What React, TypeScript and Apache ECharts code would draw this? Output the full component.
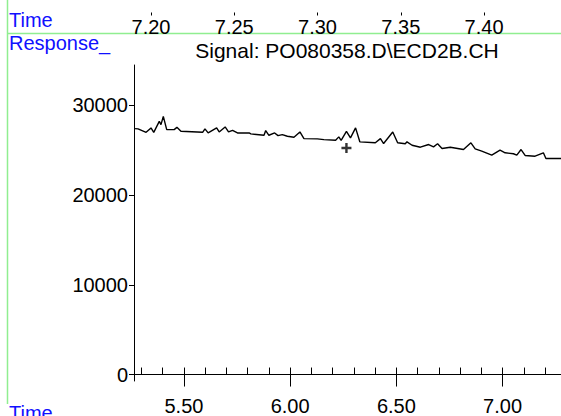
import React, { useEffect, useRef } from "react";
import * as echarts from "echarts";

// Retention time (min) and detector response
const times = [
  5.27, 5.284, 5.322, 5.345, 5.358, 5.384, 5.392, 5.403, 5.419, 5.454,
  5.467, 5.486, 5.588, 5.599, 5.614, 5.654, 5.666, 5.694, 5.71, 5.729,
  5.752, 5.807, 5.815, 5.877, 5.885, 5.9, 5.927, 5.943, 5.963, 5.987,
  6.018, 6.046, 6.065, 6.128, 6.159, 6.214, 6.229, 6.24, 6.265, 6.284,
  6.308, 6.328, 6.401, 6.425, 6.44, 6.483, 6.506, 6.542, 6.55, 6.574,
  6.613, 6.652, 6.675, 6.694, 6.715, 6.754, 6.816, 6.851, 6.871, 6.902,
  6.949, 6.988, 7.012, 7.051, 7.067, 7.087, 7.106, 7.153, 7.192, 7.204,
  7.275,
];
const responses = [
  27400, 27370, 26990, 27480, 26990, 28210, 27840, 28760, 27290, 27290,
  27540, 27100, 26990, 27370, 26920, 27480, 27030, 27590, 27030, 27210,
  26920, 26920, 26810, 26660, 27180, 26660, 26920, 26620, 26730, 26550,
  26440, 27030, 26290, 26260, 26180, 26100, 26480, 26100, 27100, 26370,
  27480, 25930, 25820, 26290, 25740, 27030, 25820, 25710, 25930, 25550,
  25330, 25630, 25370, 25710, 25180, 25330, 25070, 25820, 25150, 24890,
  24440, 25000, 24710, 24600, 24440, 25070, 24410, 24330, 24710, 24080,
  24080,
];
// cursor "+" marker
const markerPoint = [6.265, 25240];

const xLabelValues = [5.5, 6.0, 6.5, 7.0];
const xMinorValues = [5.3, 5.4, 5.5, 5.6, 5.7, 5.8, 5.9, 6.0, 6.1, 6.2, 6.3, 6.4, 6.5, 6.6, 6.7, 6.8, 6.9, 7.0, 7.1, 7.2];
const yLabelValues = [0, 10000, 20000, 30000];
const yMinorValues = [0, 2000, 4000, 6000, 8000, 10000, 12000, 14000, 16000, 18000, 20000, 22000, 24000, 26000, 28000, 30000, 32000, 34000];
const topLabelValues = [7.2, 7.25, 7.3, 7.35, 7.4];

const FONT = '"Liberation Sans", Arial, sans-serif';
const GREEN = "#90ee90";
const BLUE = "#1010ff";

export default function App() {
  const ref = useRef<HTMLDivElement>(null);
  useEffect(() => {
    const chart = echarts.init(ref.current!, null, { renderer: "svg" });
    const labelStyle = { fontSize: 20, fontFamily: FONT, color: "#000" };
    chart.setOption({
      animation: false,
      backgroundColor: "#fff",
      grid: [
        { left: 134, top: 65, width: 427, height: 318 },
        { left: 134, top: -50, width: 427, height: 50 },
      ],
      xAxis: [
        {
          gridIndex: 0, type: "value", min: 5.265, max: 7.275,
          axisLine: { show: true, lineStyle: { color: "#000", width: 1 } },
          axisTick: { show: true, customValues: xLabelValues, length: 12, lineStyle: { color: "#000" } },
          axisLabel: { ...labelStyle, customValues: xLabelValues, margin: 15, formatter: (v: number) => v.toFixed(2) },
          splitLine: { show: false },
        },
        {
          gridIndex: 0, type: "value", min: 5.265, max: 7.275,
          axisLine: { show: false },
          axisTick: { show: true, customValues: xMinorValues, length: 7, lineStyle: { color: "#000" } },
          axisLabel: { show: false },
          splitLine: { show: false },
        },
        {
          gridIndex: 1, type: "value", min: 7.1898, max: 7.4462,
          axisLine: { show: false },
          axisTick: { show: true, customValues: topLabelValues, length: 3, lineStyle: { color: "#000" } },
          axisLabel: { ...labelStyle, customValues: topLabelValues, margin: 4, formatter: (v: number) => v.toFixed(2) },
          splitLine: { show: false },
        },
      ],
      yAxis: [
        {
          gridIndex: 0, type: "value", min: -720, max: 34490,
          axisLine: { show: true, lineStyle: { color: "#000", width: 1 } },
          axisTick: { show: true, customValues: yLabelValues, length: 5, lineStyle: { color: "#000" } },
          axisLabel: { ...labelStyle, customValues: yLabelValues, margin: 6, formatter: (v: number) => String(Math.round(v)) },
          splitLine: { show: false },
        },
        {
          gridIndex: 0, type: "value", min: -720, max: 34490,
          axisLine: { show: false },
          axisTick: { show: true, customValues: yMinorValues, length: 2, lineStyle: { color: "#000" } },
          axisLabel: { show: false },
          splitLine: { show: false },
        },
        { gridIndex: 1, type: "value", min: 0, max: 1, show: false },
      ],
      series: [
        {
          type: "line", xAxisIndex: 0, yAxisIndex: 0,
          data: times.map((t, i) => [t, responses[i]]),
          showSymbol: false, symbol: "none", silent: true,
          lineStyle: { color: "#000", width: 1.4 },
        },
        {
          type: "scatter", xAxisIndex: 0, yAxisIndex: 0,
          data: [markerPoint], silent: true,
          symbol: "path://M3.8,0H6.2V3.8H10V6.2H6.2V10H3.8V6.2H0V3.8H3.8Z", symbolSize: 10,
          itemStyle: { color: "#000" },
        },
      ],
      graphic: [
        { type: "line", shape: { x1: 7.5, y1: 0, x2: 7.5, y2: 404 }, style: { stroke: GREEN, lineWidth: 1.5 } },
        { type: "line", shape: { x1: 7, y1: 33.5, x2: 561, y2: 33.5 }, style: { stroke: GREEN, lineWidth: 1.5 } },
        { type: "text", x: 9, y: 20, style: { text: "Time", fill: BLUE, fontSize: 20, fontFamily: FONT, align: "left", verticalAlign: "middle" } },
        { type: "text", x: 9, y: 43, style: { text: "Response_", fill: BLUE, fontSize: 20, fontFamily: FONT, align: "left", verticalAlign: "middle" } },
        { type: "text", x: 9, y: 413, style: { text: "Time", fill: BLUE, fontSize: 20, fontFamily: FONT, align: "left", verticalAlign: "middle" } },
        { type: "text", x: 347, y: 50, style: { text: "Signal: PO080358.D\\ECD2B.CH", fill: "#000", fontSize: 21, fontFamily: FONT, align: "center", verticalAlign: "middle" } },
      ],
    });
    return () => chart.dispose();
  }, []);
  return (
    <div
      ref={ref}
      style={{ position: "fixed", left: 0, top: 0, width: 561, height: 416, background: "#fff" }}
    />
  );
}
